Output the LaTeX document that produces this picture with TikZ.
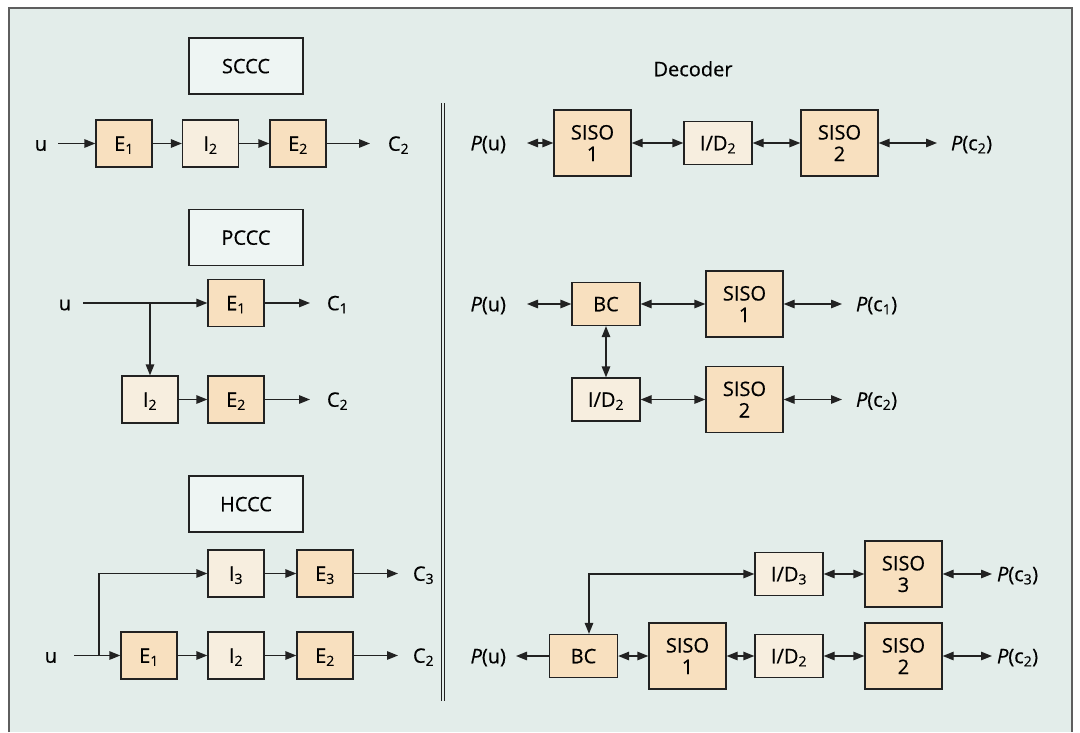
\documentclass[tikz,border=0pt]{standalone}
\usepackage{fontspec}
\setmainfont{Open Sans}[FakeBold=0.45]
\usetikzlibrary{arrows.meta}
\definecolor{bgc}{HTML}{E3EDEA}
\definecolor{framec}{HTML}{5E5E5E}
\definecolor{peach}{HTML}{F8E0BF}
\definecolor{cream}{HTML}{F7EEDF}
\definecolor{titlec}{HTML}{EEF5F3}
\definecolor{linec}{HTML}{222222}
\begin{document}
\begin{tikzpicture}[x=1pt,y=-1pt,
 every node/.style={font=\fontsize{20}{21.5}\selectfont, text=black},
 box/.style={draw=linec, line width=1.3pt, inner sep=0, align=center},
 onel/.style={text height=14.5pt, text depth=0pt},
 enc/.style={box, onel, minimum width=56pt, minimum height=47pt},
 encE/.style={enc, fill=peach},
 encI/.style={enc, fill=cream},
 ttl/.style={box, onel, fill=titlec, minimum width=114pt, minimum height=56pt},
 siso/.style={box, fill=peach, minimum width=77pt, minimum height=66pt},
 dsmall/.style={box, onel, minimum width=68pt, minimum height=43pt},
 bcb/.style={dsmall, fill=peach},
 idb/.style={dsmall, fill=cream},
 lbl/.style={inner sep=0, outer sep=0, onel},
 tip/.tip={Triangle[length=11pt,width=8.5pt]},
 arr/.style={line width=1.3pt, draw=linec, -tip},
 darr/.style={line width=1.3pt, draw=linec, tip-tip},
]
\useasboundingbox (0,0) rectangle (1080,732);
\fill[bgc] (9,8) rectangle (1072,732);
\draw[framec, line width=1.6pt] (9,732) -- (9,8) -- (1072,8) -- (1072,732);
\draw[linec, line width=0.9pt] (441,103) -- (441,701);
\draw[linec, line width=0.9pt] (444.5,103) -- (444.5,701);

% ---------- SCCC
\node[ttl] (t1) at (246,66) {SCCC};
\node[lbl, anchor=east] (u1) at (47,143.5) {u};
\node[encE] (e11) at (124,143.5) {E\textsubscript{1}};
\node[encI] (i12) at (210.5,143.5) {I\textsubscript{2}};
\node[encE] (e12) at (298,143.5) {E\textsubscript{2}};
\node[lbl, anchor=west] (c12) at (388,143.5) {C\textsubscript{2}};
\draw[arr, shorten <=11pt] (u1) -- (e11);
\draw[arr] (e11) -- (i12);
\draw[arr] (i12) -- (e12);
\draw[arr, shorten >=18pt] (e12) -- (c12);

% ---------- PCCC
\node[ttl] (t2) at (246,237.5) {PCCC};
\node[lbl, anchor=east] (u2) at (71,303) {u};
\node[encE] (e21) at (236,303) {E\textsubscript{1}};
\node[lbl, anchor=west] (c21) at (327,303) {C\textsubscript{1}};
\node[encI] (i22) at (150,399.5) {I\textsubscript{2}};
\node[encE] (e22) at (236,399.5) {E\textsubscript{2}};
\node[lbl, anchor=west] (c22) at (327,399.5) {C\textsubscript{2}};
\draw[arr, shorten <=12pt] (u2) -- (e21);
\draw[arr, shorten >=17pt] (e21) -- (c21);
\draw[arr] (i22.north |- e21) -- (i22);
\draw[arr] (i22) -- (e22);
\draw[arr, shorten >=17pt] (e22) -- (c22);

% ---------- HCCC
\node[ttl] (t3) at (246,504) {HCCC};
\node[encI] (i33) at (236,573.5) {I\textsubscript{3}};
\node[encE] (e33) at (325,573.5) {E\textsubscript{3}};
\node[lbl, anchor=west] (c33) at (413,573.5) {C\textsubscript{3}};
\node[lbl, anchor=east] (u3) at (57,655.5) {u};
\node[encE] (e31) at (149,655.5) {E\textsubscript{1}};
\node[encI] (i32) at (236,655.5) {I\textsubscript{2}};
\node[encE] (e32) at (325,655.5) {E\textsubscript{2}};
\node[lbl, anchor=west] (c32) at (413,655.5) {C\textsubscript{2}};
\coordinate (hb) at (99,655.5);
\draw[arr, shorten <=17pt] (u3) -- (e31);
\draw[arr] (hb) |- (i33);
\draw[arr] (i33) -- (e33);
\draw[arr, shorten >=15pt] (e33) -- (c33);
\draw[arr] (e31) -- (i32);
\draw[arr] (i32) -- (e32);
\draw[arr, shorten >=15pt] (e32) -- (c32);

% ---------- Decoder
\node[onel] (dec) at (693,69) {Decoder};

% row 1
\node[lbl, anchor=east] (pu1) at (506,143) {\textit{P}(u)};
\node[siso] (s11) at (592.5,143) {SISO\\1};
\node[idb] (d12) at (718,143) {I/D\textsubscript{2}};
\node[siso] (s12) at (839.5,143) {SISO\\2};
\node[lbl, anchor=west] (pc12) at (951,143) {\textit{P}(c\textsubscript{2})};
\draw[darr, shorten <=21pt] (pu1) -- (s11);
\draw[darr] (s11) -- (d12);
\draw[darr] (d12) -- (s12);
\draw[darr, shorten >=14pt] (s12) -- (pc12);

% row 2
\node[lbl, anchor=east] (pu2) at (506,304) {\textit{P}(u)};
\node[bcb] (bc2) at (606,304) {BC};
\node[siso] (s21) at (744.5,304) {SISO\\1};
\node[lbl, anchor=west] (pc21) at (856,304) {\textit{P}(c\textsubscript{1})};
\node[idb] (d22) at (606,399.5) {I/D\textsubscript{2}};
\node[siso] (s22) at (744.5,399.5) {SISO\\2};
\node[lbl, anchor=west] (pc22) at (856,399.5) {\textit{P}(c\textsubscript{2})};
\draw[darr, shorten <=21pt] (pu2) -- (bc2);
\draw[darr] (bc2) -- (s21);
\draw[darr, shorten >=14pt] (s21) -- (pc21);
\draw[darr] (bc2) -- (d22);
\draw[darr] (d22) -- (s22);
\draw[darr, shorten >=14pt] (s22) -- (pc22);

% rows 3 and 4
\node[idb] (d33) at (789,574) {I/D\textsubscript{3}};
\node[siso] (s33) at (903.5,574) {SISO\\3};
\node[lbl, anchor=west] (pc33) at (997,574) {\textit{P}(c\textsubscript{3})};
\node[lbl, anchor=east] (pu4) at (506,656) {\textit{P}(u)};
\node[bcb] (bc4) at (583.5,656) {BC};
\node[siso] (s41) at (687.5,656) {SISO\\1};
\node[idb] (d42) at (789,656) {I/D\textsubscript{2}};
\node[siso] (s42) at (903.5,656) {SISO\\2};
\node[lbl, anchor=west] (pc42) at (997,656) {\textit{P}(c\textsubscript{2})};
\coordinate (tb) at (589,574);
\draw[darr] (bc4.north -| tb) -- (tb) -- (d33);
\draw[darr] (d33) -- (s33);
\draw[darr, shorten >=5pt] (s33) -- (pc33);
\draw[arr, shorten >=10pt] (bc4) -- (pu4);
\draw[darr] (bc4) -- (s41);
\draw[darr] (s41) -- (d42);
\draw[darr] (d42) -- (s42);
\draw[darr, shorten >=5pt] (s42) -- (pc42);
\end{tikzpicture}
\end{document}
